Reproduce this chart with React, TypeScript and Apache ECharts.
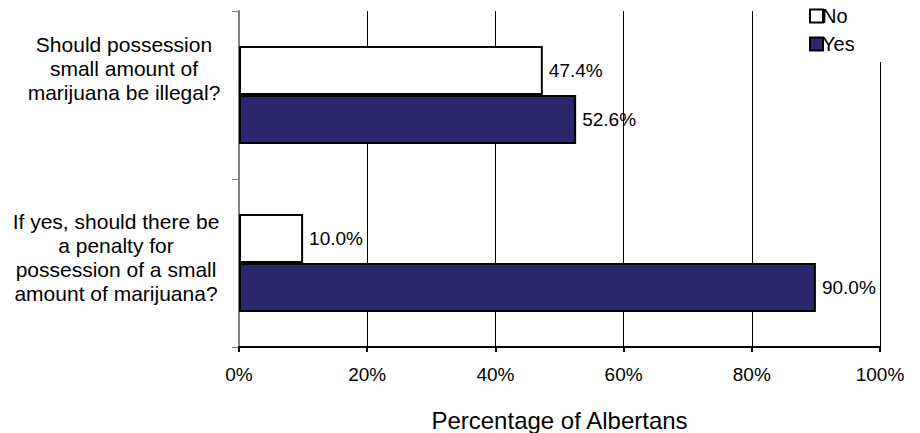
import React, { useEffect, useRef } from "react";
import * as echarts from "echarts";

const categories = [
  "Should possession\nsmall amount of\nmarijuana be illegal?",
  "If yes, should there be\na penalty for\npossession of a small\namount of marijuana?",
];
const noValues = [47.4, 10.0];
const yesValues = [52.6, 90.0];
const xTicks = [0, 20, 40, 60, 80, 100];
const xAxisName = "Percentage of Albertans";

const FONT = "'Liberation Sans', Arial, sans-serif";

export default function App() {
  const ref = useRef<HTMLDivElement>(null);
  useEffect(() => {
    if (!ref.current) return;
    const chart = echarts.init(ref.current, undefined, { renderer: "svg" });
    const labelFmt = (p: any) => p.value.toFixed(1) + "%";
    chart.setOption({
      animation: false,
      backgroundColor: "#fff",
      textStyle: { fontFamily: FONT },
      grid: { left: 239, right: 40, top: 11, bottom: 86, outerBoundsMode: "none", containLabel: false },
      legend: {
        data: ["No", "Yes"],
        orient: "vertical",
        left: 804,
        top: 3,
        itemWidth: 13,
        itemHeight: 13,
        itemGap: 8,
        padding: [3, 40, 8, 5],
        backgroundColor: "#fff",
        icon: "rect",
        textStyle: { fontSize: 20, color: "#000", fontFamily: FONT, padding: [0, 0, 0, -6] },
        z: 10,
      },
      xAxis: {
        type: "value",
        min: xTicks[0],
        max: xTicks[xTicks.length - 1],
        interval: 20,
        axisLine: { show: true, lineStyle: { color: "#000", width: 2 } },
        axisTick: { show: true, length: 5, lineStyle: { color: "#000", width: 2 } },
        axisLabel: { formatter: "{value}%", fontSize: 19, color: "#000", margin: 18, fontFamily: FONT },
        splitLine: { show: true, lineStyle: { color: "#000", width: 1 } },
        name: xAxisName,
        nameLocation: "middle",
        nameGap: 61,
        nameMoveOverlap: false,
        nameTextStyle: { fontSize: 24, color: "#000", fontFamily: FONT },
      },
      yAxis: {
        type: "category",
        data: categories,
        inverse: true,
        axisLine: { show: true, lineStyle: { color: "#808080", width: 2 } },
        axisTick: { show: true, length: 7, lineStyle: { color: "#808080", width: 1 } },
        axisLabel: {
          align: "center",
          margin: 123,
          fontSize: 21,
          color: "#000",
          fontFamily: FONT,
          lineHeight: 24,
          formatter: (v: string, i: number) => {
            const lines = v.split("\n");
            const st = i === 0 ? "a" : "b";
            return lines.map((l) => `{${st}|${l}}`).join("\n") + (i === 0 ? "\n{e1| }" : "\n{e2| }");
          },
          rich: {
            a: { fontSize: 21, lineHeight: 24, padding: [0, 0, 0, 16], color: "#000", fontFamily: FONT },
            b: { fontSize: 21, lineHeight: 24, color: "#000", fontFamily: FONT },
            e1: { fontSize: 10, lineHeight: 54, height: 54 },
            e2: { fontSize: 10, lineHeight: 12, height: 12 },
          },
        },
        splitLine: { show: false },
      },
      series: [
        {
          name: "No",
          type: "bar",
          data: noValues,
          barWidth: 49,
          barGap: "0%",
          itemStyle: { color: "#fff", borderColor: "#000", borderWidth: 2 },
          label: { show: true, position: "right", distance: 6, formatter: labelFmt, fontSize: 19, color: "#000", fontFamily: FONT },
        },
        {
          name: "Yes",
          type: "bar",
          data: yesValues,
          barWidth: 49,
          barGap: "0%",
          itemStyle: { color: "#29286E", borderColor: "#000", borderWidth: 2 },
          label: { show: true, position: "right", distance: 6, formatter: labelFmt, fontSize: 19, color: "#000", fontFamily: FONT },
        },
      ],
    });
    return () => chart.dispose();
  }, []);
  return <div ref={ref} style={{ width: 920, height: 433, position: "absolute", left: 0, top: 0 }} />;
}
